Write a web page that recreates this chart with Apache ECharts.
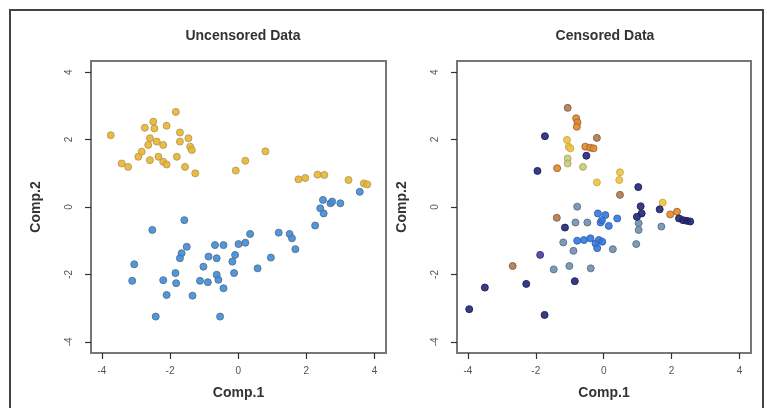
<!DOCTYPE html>
<html>
<head>
<meta charset="utf-8">
<script src="https://cdn.jsdelivr.net/npm/echarts@6/dist/echarts.min.js"></script>
<style>html,body{margin:0;padding:0;background:#fff;}#c{width:767px;height:408px;}</style>
</head>
<body>
<div id="c"></div>
<script>
var tickValues = [-4, -2, 0, 2, 4];
var panelTitles = ['Uncensored Data', 'Censored Data'];
var xName = 'Comp.1', yName = 'Comp.2';

// Uncensored panel
var uncYellow = [
  [-3.74,2.13],[-3.42,1.29],[-3.23,1.19],[-2.93,1.49],[-2.83,1.64],[-2.74,2.35],[-2.49,2.53],
  [-2.46,2.33],[-2.59,2.04],[-2.64,1.84],[-2.39,1.94],[-2.20,1.84],[-2.59,1.39],[-2.34,1.49],
  [-2.20,1.34],[-2.10,1.26],[-2.10,2.41],[-1.83,2.82],[-1.71,2.21],[-1.71,1.94],[-1.80,1.49],
  [-1.46,2.04],[-1.41,1.79],[-1.36,1.69],[-1.56,1.19],[-1.26,1.00],[-0.07,1.08],[0.21,1.37],
  [0.80,1.65],[1.77,0.82],[1.97,0.86],[2.33,0.96],[2.53,0.95],[3.24,0.80],[3.69,0.70],[3.79,0.67]
];
var uncBlue = [
  [-1.58,-0.39],[-2.52,-0.68],[-1.51,-1.18],[-1.66,-1.37],[-1.71,-1.52],[-3.05,-1.70],[-3.11,-2.19],
  [-1.84,-1.96],[-2.20,-2.17],[-1.82,-2.26],[-2.10,-2.61],[-1.34,-2.63],[-2.42,-3.25],[-0.53,-3.25],
  [-1.02,-1.77],[-0.87,-1.47],[-0.63,-1.52],[-0.68,-1.13],[-0.43,-1.13],[0.01,-1.10],[0.21,-1.06],
  [-0.17,-1.62],[-0.09,-1.42],[-1.12,-2.19],[-0.89,-2.23],[-0.63,-2.01],[-0.58,-2.16],[-0.43,-2.41],
  [-0.12,-1.96],[0.35,-0.80],[0.57,-1.82],[0.96,-1.50],[1.19,-0.76],[1.51,-0.80],[1.58,-0.93],
  [1.68,-1.25],[2.26,-0.55],[2.41,-0.04],[2.51,-0.19],[2.49,0.21],[2.71,0.11],[2.76,0.16],
  [3.00,0.11],[3.57,0.45]
];

// Censored panel
var cenNavy = [
  [-3.96,-3.03],[-3.50,-2.39],[-2.28,-2.28],[-1.74,-3.20],[-0.85,-2.20],[-1.14,-0.61],
  [-1.95,1.07],[-1.73,2.10],[-0.51,1.52],[1.02,0.59],[1.09,0.02],[1.12,-0.19],[0.98,-0.29],
  [1.65,-0.07],[2.22,-0.34],[2.34,-0.39],[2.45,-0.41],[2.55,-0.43]
];
var cenPurple = [[-1.87,-1.42]];
var cenSteel = [
  [-0.78,0.01],[-0.83,-0.46],[-0.48,-0.46],[-1.19,-1.05],[-0.89,-1.30],[-1.47,-1.85],
  [-1.01,-1.75],[-0.38,-1.82],[0.27,-1.25],[0.96,-1.10],[1.70,-0.58],[1.03,-0.48],[1.03,-0.68]
];
var cenBlue = [
  [-0.78,-1.00],[-0.58,-0.98],[-0.39,-0.93],[-0.24,-1.08],[-0.14,-0.98],[-0.19,-1.22],[-0.04,-1.03],
  [-0.17,-0.19],[0.05,-0.24],[-0.09,-0.46],[0.15,-0.56],[0.40,-0.34],[-0.05,-0.39]
];
var cenOrange = [
  [-0.81,2.63],[-0.77,2.51],[-0.79,2.38],[-0.54,1.79],[-0.40,1.76],[-0.30,1.74],[-1.37,1.15],
  [1.96,-0.22],[2.16,-0.14]
];
var cenBrown = [
  [-1.06,2.94],[-0.20,2.05],[0.48,0.36],[-1.38,-0.32],[-2.68,-1.75]
];
var cenYellow = [
  [-1.08,1.99],[-1.03,1.79],[-0.98,1.74],[-0.20,0.73],[0.48,1.03],[0.46,0.80],[1.74,0.13]
];
var cenOlive = [
  [-1.06,1.44],[-1.06,1.29],[-0.61,1.19]
];

var font = '"Liberation Sans", Arial, Helvetica, sans-serif';
var grids = [
  {left: 91, top: 61, width: 295, height: 292},
  {left: 457, top: 61, width: 294, height: 292}
];
function xAx(i) {
  return {
    gridIndex: i, type: 'value', min: -4.32, max: 4.34,
    name: xName, nameLocation: 'middle', nameGap: 33,
    nameTextStyle: {fontFamily: font, fontWeight: 'bold', fontSize: 14, color: '#333'},
    splitLine: {show: false},
    axisLine: {show: false, onZero: false},
    axisTick: {show: true, inside: false, length: 6, customValues: tickValues, lineStyle: {color: '#333', width: 1.2}},
    axisLabel: {customValues: tickValues, margin: 13, fontFamily: font, fontSize: 10, color: '#555'}
  };
}
function yAx(i) {
  return {
    gridIndex: i, type: 'value', min: -4.33, max: 4.33,
    name: yName, nameLocation: 'middle', nameGap: 48, nameRotate: 90,
    nameTextStyle: {fontFamily: font, fontWeight: 'bold', fontSize: 14, color: '#333'},
    splitLine: {show: false},
    axisLine: {show: false, onZero: false},
    axisTick: {show: true, inside: false, length: 6, customValues: tickValues, lineStyle: {color: '#333', width: 1.2}},
    axisLabel: {customValues: tickValues, rotate: 90, margin: 17, fontFamily: font, fontSize: 10, color: '#555'}
  };
}
function sc(data, xi, color, border) {
  return {
    type: 'scatter', xAxisIndex: xi, yAxisIndex: xi, data: data, symbolSize: 7,
    itemStyle: {color: color, borderColor: border, borderWidth: 1, opacity: 0.9},
    silent: true, animation: false
  };
}

var chart = echarts.init(document.getElementById('c'), null, {renderer: 'canvas'});
chart.setOption({
  backgroundColor: '#fff',
  animation: false,
  title: [
    {text: panelTitles[0], left: 238, top: 24, textAlign: 'center', textStyle: {fontFamily: font, fontWeight: 'bold', fontSize: 14, color: '#333'}},
    {text: panelTitles[1], left: 600, top: 24, textAlign: 'center', textStyle: {fontFamily: font, fontWeight: 'bold', fontSize: 14, color: '#333'}}
  ],
  graphic: [
    {type: 'rect', shape: {x: 10, y: 10, width: 753, height: 410}, style: {fill: 'none', stroke: '#444', lineWidth: 2}, silent: true}
  ],
  grid: grids.map(function (g) {
    return Object.assign({show: true, borderColor: '#777', borderWidth: 2, backgroundColor: 'transparent'}, g);
  }),
  xAxis: [xAx(0), xAx(1)],
  yAxis: [yAx(0), yAx(1)],
  series: [
    sc(uncYellow, 0, '#ebb52a', '#b09a60'),
    sc(uncBlue, 0, '#3b8ddb', '#5a6f88'),
    sc(cenSteel, 1, '#6f8fb0', '#5d6f84'),
    sc(cenBlue, 1, '#2f78e0', '#3a60a8'),
    sc(cenYellow, 1, '#efc33a', '#c8a850'),
    sc(cenOlive, 1, '#c9c97a', '#a8a870'),
    sc(cenOrange, 1, '#e38a24', '#a0643a'),
    sc(cenBrown, 1, '#b07a48', '#806050'),
    sc(cenPurple, 1, '#4b3aa0', '#3a3070'),
    sc(cenNavy, 1, '#22267a', '#1a1e55')
  ]
});
</script>
</body>
</html>
